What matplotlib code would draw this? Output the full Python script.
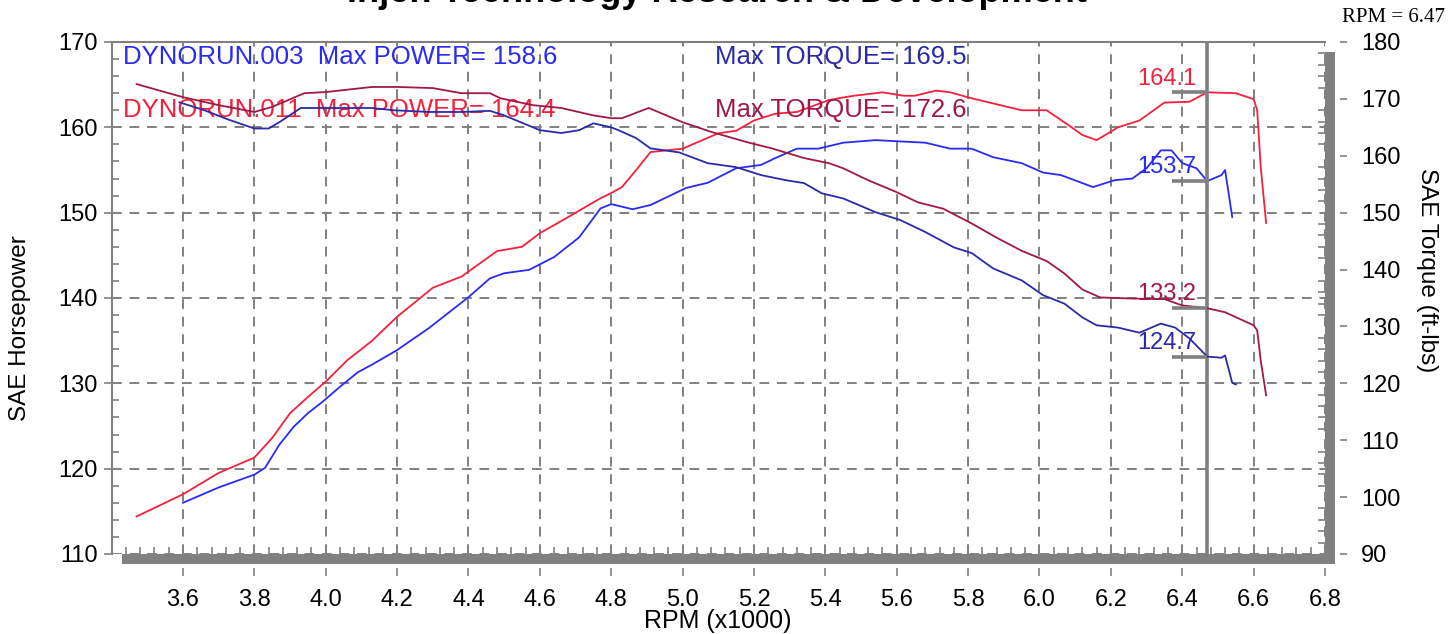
import numpy as np
import matplotlib
matplotlib.use("Agg")
import matplotlib.pyplot as plt
from matplotlib.ticker import MultipleLocator
from matplotlib.patches import Rectangle

plt.rcParams['font.family'] = ['Liberation Sans', 'DejaVu Sans']

# ---------------- data ----------------
# Run 011 power (SAE hp)
rpm_p011 = [3.47, 3.60, 3.70, 3.80, 3.85, 3.90, 3.95, 4.00, 4.06, 4.10, 4.13, 4.20, 4.30, 4.38,
            4.48, 4.55, 4.60, 4.68, 4.77, 4.80, 4.83, 4.87, 4.91, 5.00, 5.10, 5.15, 5.20, 5.26,
            5.32, 5.41, 5.45, 5.48, 5.56, 5.62, 5.65, 5.71, 5.75, 5.81, 5.87, 5.95, 6.02, 6.09,
            6.12, 6.16, 6.22, 6.28, 6.35, 6.42, 6.47, 6.55, 6.60, 6.61, 6.62, 6.635]
hp_p011 = [114.4, 117.0, 119.5, 121.3, 123.6, 126.5, 128.4, 130.2, 132.7, 134.0, 135.0, 137.8, 141.2, 142.5,
           145.5, 146.0, 147.6, 149.5, 151.7, 152.3, 153.0, 155.0, 157.1, 157.5, 159.3, 159.6, 160.8, 161.6,
           161.8, 163.2, 163.5, 163.7, 164.1, 163.7, 163.7, 164.3, 164.1, 163.4, 162.8, 162.0, 162.0, 160.0,
           159.1, 158.5, 160.0, 160.8, 162.9, 163.0, 164.1, 164.0, 163.3, 162.0, 155.3, 148.8]

# Run 003 power (SAE hp)
rpm_p003 = [3.60, 3.70, 3.80, 3.83, 3.87, 3.91, 3.95, 3.99, 4.04, 4.09, 4.13, 4.20, 4.29, 4.40,
            4.46, 4.50, 4.57, 4.64, 4.71, 4.77, 4.80, 4.86, 4.91, 5.01, 5.07, 5.15, 5.22, 5.26,
            5.32, 5.38, 5.45, 5.54, 5.68, 5.75, 5.81, 5.87, 5.95, 6.01, 6.06, 6.15, 6.21, 6.26,
            6.30, 6.34, 6.37, 6.40, 6.44, 6.47, 6.51, 6.52, 6.54]
hp_p003 = [116.0, 117.8, 119.3, 120.1, 122.8, 124.9, 126.5, 127.8, 129.6, 131.3, 132.2, 133.9, 136.5, 140.1,
           142.3, 142.9, 143.3, 144.8, 147.1, 150.5, 151.0, 150.4, 150.9, 152.9, 153.5, 155.2, 155.6, 156.4,
           157.5, 157.5, 158.2, 158.5, 158.2, 157.5, 157.5, 156.5, 155.8, 154.7, 154.4, 153.0, 153.8, 154.0,
           155.2, 157.3, 157.3, 155.8, 155.2, 153.7, 154.4, 155.0, 149.5]

# Run 011 torque (ft-lbs)
rpm_t011 = [3.47, 3.60, 3.70, 3.80, 3.85, 3.94, 4.00, 4.13, 4.20, 4.30, 4.38, 4.46, 4.49, 4.58,
            4.66, 4.75, 4.80, 4.83, 4.905, 5.00, 5.08, 5.18, 5.25, 5.34, 5.41, 5.45, 5.52, 5.60,
            5.66, 5.73, 5.81, 5.88, 5.95, 6.02, 6.07, 6.12, 6.17, 6.26, 6.35, 6.40, 6.47, 6.52,
            6.60, 6.61, 6.62, 6.635]
tq_t011 = [172.6, 170.3, 168.9, 167.7, 168.6, 171.0, 171.2, 172.1, 172.1, 171.9, 171.0, 171.0, 170.1, 168.9,
           168.4, 167.1, 166.6, 166.6, 168.4, 165.9, 164.2, 162.4, 161.3, 159.6, 158.7, 157.8, 155.7, 153.6,
           151.8, 150.7, 148.1, 145.6, 143.3, 141.5, 139.3, 136.5, 135.1, 134.9, 134.8, 133.7, 133.2, 132.5,
           130.2, 129.3, 124.0, 117.9]

# Run 003 torque (ft-lbs)
rpm_t003 = [3.59, 3.66, 3.73, 3.80, 3.84, 3.87, 3.93, 4.00, 4.13, 4.19, 4.29, 4.38, 4.46, 4.50,
            4.60, 4.66, 4.71, 4.75, 4.80, 4.82, 4.87, 4.91, 4.99, 5.07, 5.15, 5.22, 5.29, 5.34,
            5.39, 5.45, 5.48, 5.54, 5.61, 5.68, 5.76, 5.81, 5.87, 5.95, 6.01, 6.07, 6.12, 6.16,
            6.22, 6.28, 6.34, 6.38, 6.42, 6.47, 6.51, 6.52, 6.54, 6.55]
tq_t003 = [169.4, 168.0, 166.3, 164.8, 164.8, 165.9, 168.4, 168.4, 168.4, 168.0, 167.7, 167.7, 167.9, 167.1,
           164.5, 164.0, 164.5, 165.7, 165.0, 164.5, 163.1, 161.3, 160.6, 158.7, 158.0, 156.6, 155.7, 155.2,
           153.4, 152.5, 151.7, 150.1, 148.7, 146.6, 143.9, 142.9, 140.2, 138.1, 135.5, 134.0, 131.6, 130.2,
           129.8, 128.9, 130.5, 129.8, 127.9, 124.7, 124.5, 124.9, 120.1, 119.8]

cursor_rpm = 6.47
cursor_hp = {'011': 164.1, '003': 153.7}
cursor_tq = {'011': 133.2, '003': 124.7}

legend_lines = [
    ("DYNORUN.003  Max POWER= 158.6", "Max TORQUE= 169.5"),
    ("DYNORUN.011  Max POWER= 164.4", "Max TORQUE= 172.6"),
]
title = "Injen Technology Research & Development"

x_ticks = [3.6, 3.8, 4.0, 4.2, 4.4, 4.6, 4.8, 5.0, 5.2, 5.4, 5.6, 5.8, 6.0, 6.2, 6.4, 6.6, 6.8]
hp_ticks = [110, 120, 130, 140, 150, 160, 170]
tq_ticks = [90, 100, 110, 120, 130, 140, 150, 160, 170, 180]

# ---------------- style ----------------
C_P003 = '#2a2af5'
C_T003 = '#2a2aa8'
C_P011 = '#f5203c'
C_T011 = '#a01848'
GRAY = '#808080'
FS = 17
FS_LEG = 18.5

W, H = 1449, 634
fig = plt.figure(figsize=(W / 100, H / 100), dpi=100)
fig.patch.set_facecolor('white')

L, R, T, B = 111.6, 1325.0, 42.0, 554.0
ax = fig.add_axes([L / W, 1 - B / H, (R - L) / W, (B - T) / H])
ax.set_facecolor('white')
ax.set_zorder(1)

# drop shadow (thick gray bars at bottom and right)
off = 10
shadow = Rectangle(((L + off) / W, 1 - (B + off) / H), (R - L) / W, (B - T) / H,
                   transform=fig.transFigure, facecolor=GRAY, edgecolor='none', zorder=-5)
fig.patches.append(shadow)

ax.set_xlim(3.4, 6.8)
ax.set_ylim(110, 170)
ax2 = ax.twinx()
ax2.set_ylim(90, 180)

lw = 1.3
ax.plot(rpm_p011, hp_p011, color=C_P011, lw=lw, zorder=3)
ax.plot(rpm_p003, hp_p003, color=C_P003, lw=lw, zorder=3)
ax2.plot(rpm_t011, tq_t011, color=C_T011, lw=lw, zorder=3)
ax2.plot(rpm_t003, tq_t003, color=C_T003, lw=lw, zorder=3)

# grid
ax.set_xticks(x_ticks)
ax.set_yticks(hp_ticks)
ax.grid(True, which='major', linestyle=(0, (5, 4)), color=GRAY, lw=1.4)
ax.xaxis.set_minor_locator(MultipleLocator(0.04))
ax.yaxis.set_minor_locator(MultipleLocator(2))
ax2.set_yticks(tq_ticks)
ax2.yaxis.set_minor_locator(MultipleLocator(2))

# spines
for s in ['top', 'left']:
    ax.spines[s].set_color(GRAY)
    ax.spines[s].set_linewidth(1.5)
for s in ['bottom', 'right']:
    ax.spines[s].set_visible(False)
for s in ax2.spines.values():
    s.set_visible(False)

# ticks on main axes
ax.tick_params(axis='x', which='major', length=0, labelbottom=False)
ax.tick_params(axis='x', which='minor', direction='in', length=5, width=1.2, color=GRAY)
ax.tick_params(axis='y', which='major', direction='out', length=6, width=1.2, color=GRAY,
               labelsize=FS, pad=4)
ax.tick_params(axis='y', which='minor', direction='in', length=5, width=1.2, color=GRAY)
ax2.tick_params(axis='y', which='major', length=0, labelright=False)
ax2.tick_params(axis='y', which='minor', direction='in', length=5, width=1.2, color=GRAY)

# outer tick rows beyond the shadow bars
secx = ax.secondary_xaxis(-(off + 4) / (B - T))
secx.set_xticks(x_ticks)
secx.set_xticklabels([f"{v:.1f}" for v in x_ticks])
secx.tick_params(direction='out', length=6, width=1.2, color=GRAY, labelsize=FS, pad=9)
for s in secx.spines.values():
    s.set_visible(False)

secy = ax2.secondary_yaxis(1 + (off + 5) / (R - L))
secy.set_yticks(tq_ticks)
secy.tick_params(direction='out', length=5, width=1.2, color=GRAY, labelsize=FS, pad=10)
for s in secy.spines.values():
    s.set_visible(False)

# cursor
ax.axvline(cursor_rpm, color=GRAY, lw=2.6, zorder=4)
mk_len = 0.10
for key, col in [('011', C_P011), ('003', C_P003)]:
    v = cursor_hp[key]
    ax.hlines(v, cursor_rpm - mk_len, cursor_rpm, color=GRAY, lw=2.6, zorder=4)
    ax.annotate(f"{v:.1f}", (cursor_rpm, v), xytext=(-8, 2), textcoords='offset points',
                ha='right', va='bottom', color=col, fontsize=FS, zorder=5)
for key, col in [('011', C_T011), ('003', C_T003)]:
    v = cursor_tq[key]
    ax2.hlines(v, cursor_rpm - mk_len, cursor_rpm, color=GRAY, lw=2.6, zorder=4)
    ax2.annotate(f"{v:.1f}", (cursor_rpm, v), xytext=(-8, 2), textcoords='offset points',
                 ha='right', va='bottom', color=col, fontsize=FS, zorder=5)

# legend texts
ax.text(0.0094, 0.971, legend_lines[0][0], transform=ax.transAxes, color=C_P003,
        fontsize=FS_LEG, va='center', ha='left', zorder=6)
ax.text(0.497, 0.971, legend_lines[0][1], transform=ax.transAxes, color=C_T003,
        fontsize=FS_LEG, va='center', ha='left', zorder=6)
ax.text(0.0094, 0.867, legend_lines[1][0], transform=ax.transAxes, color=C_P011,
        fontsize=FS_LEG, va='center', ha='left', zorder=6)
ax.text(0.497, 0.867, legend_lines[1][1], transform=ax.transAxes, color=C_T011,
        fontsize=FS_LEG, va='center', ha='left', zorder=6)

# labels
fig.text(20 / W, 1 - 328 / H, "SAE Horsepower", rotation=90, ha='center', va='center', fontsize=17.5)
fig.text(1427 / W, 1 - 270 / H, "SAE Torque (ft-lbs)", rotation=-90, ha='center', va='center', fontsize=17.5)
fig.text(718 / W, 1 - 621 / H, "RPM (x1000)", ha='center', va='center', fontsize=18)
fig.text(1445 / W, 1 - 18 / H, f"RPM = {cursor_rpm:.2f}", ha='right', va='center',
         fontsize=15, family=['Liberation Serif', 'DejaVu Serif'])
fig.text(717 / W, 1 - 2 / H, title, ha='center', va='baseline', fontsize=26, fontweight='bold')

fig.savefig("out.png", dpi=100, facecolor='white')
